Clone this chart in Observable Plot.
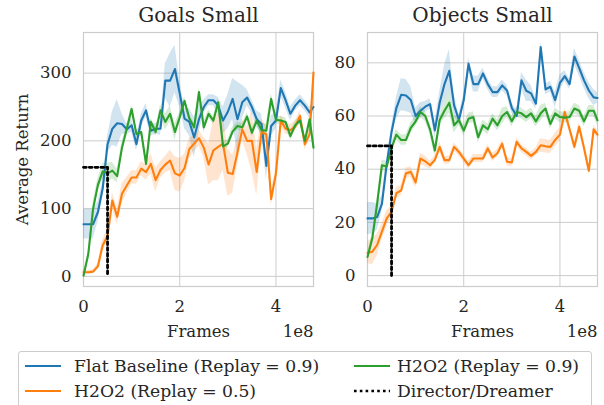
<!DOCTYPE html>
<html>
<head>
<meta charset="utf-8">
<script src="https://cdn.jsdelivr.net/npm/d3@7"></script>
<script src="https://cdn.jsdelivr.net/npm/@observablehq/plot@0.6"></script>
<style>
  html, body { margin: 0; padding: 0; background: #fff; width: 604px; height: 405px; overflow: hidden; }
  #wrap { position: relative; width: 604px; height: 405px; font-family: "DejaVu Serif", "Liberation Serif", "Noto Serif", serif; color: #262626; }
  .panel { position: absolute; top: 0; }
  .legend { position: absolute; left: 18px; top: 351px; width: 574px; height: 70px; border: 1px solid #cccccc; border-radius: 3px; box-sizing: border-box; background: #fff; }
  .item { position: absolute; font-size: 17.2px; line-height: 20px; white-space: nowrap; }
</style>
</head>
<body>
<div id="wrap">
  <div class="panel" id="left" style="left:0px"></div>
  <div class="panel" id="right" style="left:300px"></div>
  <div class="legend" id="legend"></div>
</div>
<script>
// Frames (in units of 1e8)
const frames = [0,0.1,0.2,0.3,0.4,0.5,0.6,0.7,0.8,0.9,1.0,1.1,1.2,1.3,1.4,1.5,1.6,1.7,1.8,1.9,2.0,2.1,2.2,2.3,2.4,2.5,2.6,2.7,2.8,2.9,3.0,3.1,3.2,3.3,3.4,3.5,3.6,3.7,3.8,3.9,4.0,4.1,4.2,4.3,4.4,4.5,4.6,4.7,4.78];

const seriesNames = ["Flat Baseline (Replay = 0.9)", "H2O2 (Replay = 0.5)", "H2O2 (Replay = 0.9)", "Director/Dreamer"];
const seriesColors = ["#1f77b4", "#ff7f0e", "#2ca02c", "#000000"];
const panelTitles = ["Goals Small", "Objects Small"];

// Goals Small
const goalsFlat = [77,77,77,95,130,195,218,226,225,217,223,195,230,245,215,218,218,289,289,306,270,233,228,205,232,250,260,260,252,230,243,262,232,257,264,250,232,225,163,222,230,278,260,240,252,260,252,242,250];
const goalsFlatSpread = [22,22,22,15,10,12,25,35,15,8,10,10,10,10,8,8,10,25,40,35,20,15,20,30,20,10,8,8,12,20,25,30,55,25,12,10,12,15,20,15,12,12,12,10,8,8,8,8,8];
const goalsH2O2_05 = [6,6,7,15,46,60,112,88,122,134,146,146,159,154,166,142,157,165,171,152,149,160,188,196,204,190,165,186,191,196,153,151,183,217,200,200,154,213,210,114,152,230,218,216,221,237,195,210,301];
const goalsH2O2_05Spread = [3,3,3,4,8,10,12,12,15,12,10,10,10,12,15,18,12,12,15,25,25,20,15,12,12,15,30,45,50,40,35,28,20,15,20,45,35,20,12,10,10,8,8,8,8,8,8,8,8];
const goalsH2O2_09 = [1,33,100,135,155,152,156,148,190,218,247,210,213,166,228,213,245,228,240,213,235,259,233,220,272,220,240,230,257,192,196,214,222,220,236,212,230,216,215,262,231,230,228,207,223,230,200,232,190];
const goalsH2O2_09Spread = [2,5,10,10,12,15,12,10,8,6,6,6,6,6,6,6,8,12,12,12,8,6,6,6,6,8,6,6,6,6,6,6,6,6,6,6,6,10,10,8,6,6,6,6,6,6,6,6,6];
const goalsDreamerScore = 161;

// Objects Small
const objectsFlat = [21.5,21.5,22,27,42,54,63,68,67.7,66,60,62,63.5,64.5,54.6,65,72,77,64,58.5,66,79.6,72,72,76,72,69,69,71.5,69.6,63,60,73.4,69.5,68.5,64.6,85.9,70,71,66,72.5,75,72,82.4,78,73.4,69.6,67,66.8];
const objectsFlatSpread = [6,6,5,3,2,2,4,6,6,5,3,3,2,2,3,4,7,8,4,2,2,2,3,3,2,2,2,2,2,2,2,2,3,4,3,2,2,2,2,3,3,2,2,3,3,3,3,3,2];
const objectsH2O2_05 = [8.6,9,11.5,16.5,21.5,24,31,32,38.5,39,35,44,43,41.5,43.5,48.4,43.4,43.4,48.4,46.5,44,41.5,44,44,44,47.8,44.4,46,49.6,42.8,42.5,50.3,47.8,46.5,45,46.5,49,48.6,48.4,51,53,61.5,55,48.4,56,48,39.4,55,53];
const objectsH2O2_05Spread = [4,5,4,3,3,2,2,2,2,2,2,2,2,1.5,1.5,2,1.5,1.5,1.5,1.5,1.5,1.5,1.5,1.5,1.5,1.5,1.5,1.5,1.5,1.5,1.5,1.5,1.5,1.5,1.5,1.5,2.5,2.5,2.5,2.5,2.5,1.5,1.5,1.5,1.5,1.5,1.5,1.5,1.5];
const objectsH2O2_09 = [7,14,27,41.5,41,48,53,51,51,55.5,58,61.5,60,55,47,58.5,62,65,56.5,58.5,54.5,59,59.6,52,56.5,55,59,56.5,60,61.5,58,61.5,61,59.6,61,58,61,62.8,57,61,59.6,59.4,59.6,62.8,62,58,62,62,58.4];
const objectsH2O2_09Spread = [1.5,2,2,2,2,2,2,2,2,2,2,2,2,2,2,2,3,4,3,2,2,2,2,2,2,2,2,2,3,2,2,2,2,2,2,2,3,2,2,2,2,2,2,2,2,2,2,2,2];
const objectsDreamerScore = 48.75;

const dreamerFrames = 0.5;

const goalsTicks = [0,100,200,300];
const objectsTicks = [0,20,40,60,80];
const xTicks = [0,2,4];

const FONT = '"DejaVu Serif", "Liberation Serif", "Noto Serif", serif';

function rows(vals, spread) {
  return frames.map((f, i) => ({f, v: vals[i], lo: vals[i] - spread[i], hi: vals[i] + spread[i]}));
}

function panel({title, series, dreamer, yDomain, yTicks, width, marginLeft, showYLabel}) {
  const grid = "#cccccc";
  const marks = [
    Plot.gridX(xTicks, {stroke: grid, strokeOpacity: 1, strokeWidth: 1}),
    Plot.gridY(yTicks, {stroke: grid, strokeOpacity: 1, strokeWidth: 1}),
    Plot.frame({stroke: grid, strokeWidth: 1.2})
  ];
  series.forEach((s, k) => {
    marks.push(Plot.areaY(rows(s.v, s.sp), {x: "f", y1: "lo", y2: "hi", fill: seriesColors[k], fillOpacity: 0.2}));
  });
  series.forEach((s, k) => {
    marks.push(Plot.line(rows(s.v, s.sp), {x: "f", y: "v", stroke: seriesColors[k], strokeWidth: 2.1}));
  });
  const dz = [{f: 0, v: dreamer}, {f: dreamerFrames, v: dreamer}, {f: dreamerFrames, v: 0}];
  marks.push(Plot.line(dz, {x: "f", y: "v", stroke: "#000", strokeWidth: 2.8, strokeDasharray: "2.8,3"}));
  marks.push(Plot.axisX(xTicks, {tickSize: 0, tickPadding: 14, label: null, fontSize: 16.5}));
  marks.push(Plot.axisY(yTicks, {tickSize: 0, tickPadding: 12, label: null, fontSize: 16.5}));
  marks.push(Plot.text([title], {frameAnchor: "top", dy: -17, fontSize: 20, lineAnchor: "middle", textAnchor: "middle"}));
  marks.push(Plot.text(["Frames"], {frameAnchor: "bottom", dy: 45, fontSize: 16.5, lineAnchor: "middle", textAnchor: "middle"}));
  marks.push(Plot.text(["1e8"], {frameAnchor: "bottom-right", dy: 45, fontSize: 16.5, textAnchor: "end", lineAnchor: "middle"}));
  if (showYLabel) {
    marks.push(Plot.text(["Average Return"], {frameAnchor: "left", dx: -61, rotate: -90, fontSize: 16.5, lineAnchor: "middle", textAnchor: "middle"}));
  }
  return Plot.plot({
    width, height: 345,
    marginLeft, marginRight: 7, marginTop: 32, marginBottom: 59,
    x: {domain: [0, 4.78]},
    y: {domain: yDomain},
    style: {fontFamily: FONT, fontSize: "16.5px", color: "#262626", background: "transparent", overflow: "visible"},
    marks
  });
}

document.getElementById("left").appendChild(panel({
  title: panelTitles[0],
  series: [{v: goalsFlat, sp: goalsFlatSpread}, {v: goalsH2O2_05, sp: goalsH2O2_05Spread}, {v: goalsH2O2_09, sp: goalsH2O2_09Spread}],
  dreamer: goalsDreamerScore, yDomain: [-15, 360], yTicks: goalsTicks, width: 320, marginLeft: 83, showYLabel: true
}));
document.getElementById("right").appendChild(panel({
  title: panelTitles[1],
  series: [{v: objectsFlat, sp: objectsFlatSpread}, {v: objectsH2O2_05, sp: objectsH2O2_05Spread}, {v: objectsH2O2_09, sp: objectsH2O2_09Spread}],
  dreamer: objectsDreamerScore, yDomain: [-4.1, 91.4], yTicks: objectsTicks, width: 304, marginLeft: 67, showYLabel: false
}));

// Legend
const legend = document.getElementById("legend");
const slots = [
  {sx: 6, tx: 55, ty: 4},    // Flat baseline
  {sx: 6, tx: 55, ty: 29},   // H2O2 0.5
  {sx: 335, tx: 378, ty: 4}, // H2O2 0.9
  {sx: 335, tx: 378, ty: 29} // Director/Dreamer
];
seriesNames.forEach((name, k) => {
  const s = slots[k];
  const sw = document.createElementNS("http://www.w3.org/2000/svg", "svg");
  sw.setAttribute("width", 36); sw.setAttribute("height", 6);
  sw.style.position = "absolute"; sw.style.left = s.sx + "px"; sw.style.top = (s.ty + 7) + "px";
  const ln = document.createElementNS("http://www.w3.org/2000/svg", "line");
  ln.setAttribute("x1", 0); ln.setAttribute("x2", 36); ln.setAttribute("y1", 3); ln.setAttribute("y2", 3);
  ln.setAttribute("stroke", seriesColors[k]);
  ln.setAttribute("stroke-width", k === 3 ? 2.6 : 2.1);
  if (k === 3) ln.setAttribute("stroke-dasharray", "2.6,3.2");
  sw.appendChild(ln);
  legend.appendChild(sw);
  const t = document.createElement("div");
  t.className = "item";
  t.style.left = s.tx + "px"; t.style.top = s.ty + "px";
  t.textContent = name;
  legend.appendChild(t);
});
</script>
</body>
</html>
